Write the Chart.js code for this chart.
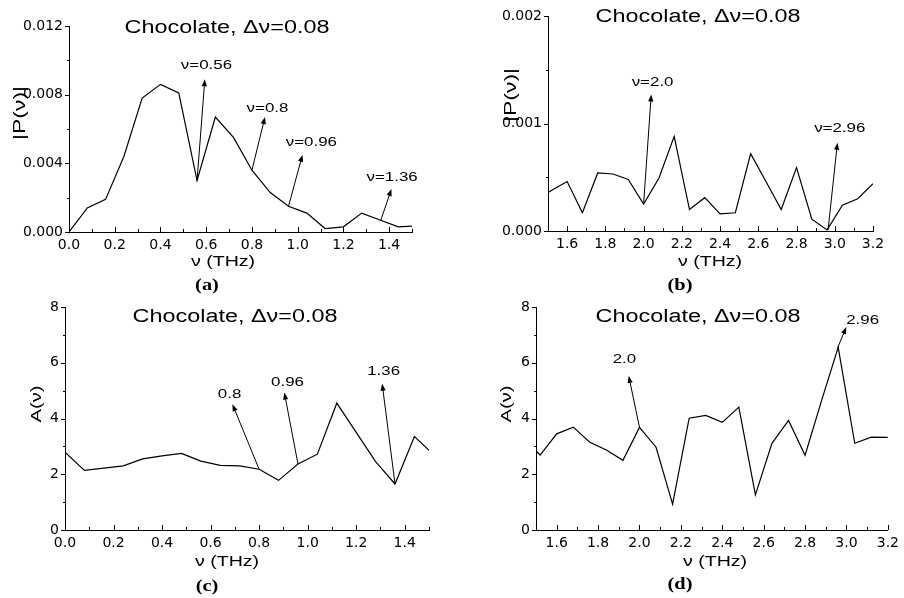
<!DOCTYPE html>
<html>
<head>
<meta charset="utf-8">
<script src="https://cdn.jsdelivr.net/npm/chart.js@4.4.0/dist/chart.umd.min.js"></script>
<style>
  html, body { margin: 0; padding: 0; background: #fff; }
  #wrap { position: relative; width: 904px; height: 598px; }
  #wrap canvas { position: absolute; left: 0; top: 0; }
</style>
</head>
<body>
<div id="wrap">
  <canvas id="chart-a" width="904" height="598"></canvas>
  <canvas id="chart-b" width="904" height="598"></canvas>
  <canvas id="chart-c" width="904" height="598"></canvas>
  <canvas id="chart-d" width="904" height="598"></canvas>
</div>
<script>
// frequencies (THz), step 0.08
const freq_low = [0.00, 0.08, 0.16, 0.24, 0.32, 0.40, 0.48, 0.56, 0.64, 0.72, 0.80, 0.88, 0.96, 1.04, 1.12, 1.20, 1.28, 1.36, 1.44, 1.52]
const freq_high = [1.44, 1.52, 1.60, 1.68, 1.76, 1.84, 1.92, 2.00, 2.08, 2.16, 2.24, 2.32, 2.40, 2.48, 2.56, 2.64, 2.72, 2.80, 2.88, 2.96, 3.04, 3.12, 3.20]

// |P(v)|
const power_low = [0.0000, 0.0014, 0.0019, 0.0044, 0.0078, 0.0086, 0.0081, 0.0030, 0.0067, 0.0055, 0.0036, 0.0023, 0.0015, 0.0011, 0.0002, 0.0003, 0.0011, 0.0007, 0.0003, 0.00035]
const power_high = [0.00029, 0.00038, 0.00046, 0.00017, 0.00054, 0.00053, 0.00048, 0.00025, 0.00049, 0.00088, 0.00020, 0.00031, 0.00016, 0.00017, 0.00072, 0.00046, 0.00020, 0.00059, 0.00011, 0.00001, 0.00024, 0.00030, 0.00044]

// A(v)
const amp_low = [2.79, 2.14, 2.22, 2.30, 2.55, 2.66, 2.75, 2.47, 2.32, 2.30, 2.18, 1.78, 2.37, 2.72, 4.55, 3.50, 2.45, 1.65, 3.35, 2.70]
const amp_high = [3.30, 2.69, 3.45, 3.69, 3.15, 2.87, 2.50, 3.68, 2.97, 0.93, 4.01, 4.11, 3.86, 4.41, 1.26, 3.11, 3.93, 2.68, 4.65, 6.55, 3.11, 3.33, 3.32]

// tick labels
const x_ticks_low = [0.0, 0.2, 0.4, 0.6, 0.8, 1.0, 1.2, 1.4]
const x_ticks_high = [1.6, 1.8, 2.0, 2.2, 2.4, 2.6, 2.8, 3.0, 3.2]
const p_ticks_low = [0.000, 0.004, 0.008, 0.012]
const p_ticks_high = [0.000, 0.001, 0.002]
const a_ticks = [0, 2, 4, 6, 8]

// arrows: from point on curve, to arrow tip, label position
const arrows_a = [
  { from: [0.56, 0.0030], to: [0.594, 0.0089], text: 'ν=0.56', at: [0.601, 0.0097] },
  { from: [0.80, 0.0036], to: [0.857, 0.0067], text: 'ν=0.8', at: [0.868, 0.0072] },
  { from: [0.96, 0.0015], to: [1.021, 0.0045], text: 'ν=0.96', at: [1.06, 0.0052] },
  { from: [1.364, 0.0007], to: [1.41, 0.0025], text: 'ν=1.36', at: [1.413, 0.0032] }
]
const arrows_b = [
  { from: [2.00, 0.00025], to: [2.04, 0.00127], text: 'ν=2.0', at: [2.047, 0.00138] },
  { from: [2.965, 0.00001], to: [3.014, 0.00082], text: 'ν=2.96', at: [3.026, 0.00095] }
]
const arrows_c = [
  { from: [0.80, 2.18], to: [0.69, 4.51], text: '0.8', at: [0.678, 4.87] },
  { from: [0.96, 2.37], to: [0.904, 4.93], text: '0.96', at: [0.917, 5.29] },
  { from: [1.36, 1.65], to: [1.307, 5.25], text: '1.36', at: [1.313, 5.69] }
]
const arrows_d = [
  { from: [2.00, 3.68], to: [1.948, 5.53], text: '2.0', at: [1.927, 6.11] },
  { from: [2.957, 6.53], to: [2.999, 7.28], text: '2.96', at: [3.078, 7.51] }
]

const TITLE = 'Chocolate, Δν=0.08',
      Y_W = 50,
      X_H = 24,
      SANS = '"Liberation Sans", Arial, sans-serif'

function wideText(ctx, str, x, y, font, sx, rot) {
  ctx.save()
  ctx.translate(x, y)
  if (rot) ctx.rotate(rot)
  ctx.scale(sx, 1)
  ctx.font = font
  ctx.fillStyle = '#000'
  ctx.textAlign = 'center'
  ctx.textBaseline = 'middle'
  ctx.fillText(str, 0, 0)
  ctx.restore()
}

function minorsOf(major, min, max) {
  const step = major[1] - major[0], out = []
  for (let i = -1; i < major.length; i++) {
    const v = (i < 0 ? major[0] - step : major[i]) + step / 2
    if (v >= min - 1e-9 && v <= max + 1e-9) out.push(v)
  }
  return out
}

function panel(id, p) {
  const decor = {
    id: 'decor',
    afterDraw(chart) {
      const {ctx, chartArea: area, scales: {x, y}} = chart
      ctx.save()
      ctx.strokeStyle = '#000'
      ctx.lineWidth = 1
      // tick marks: x inward, y outward
      const tick = (vals, len, axis) => vals.forEach(v => {
        ctx.beginPath()
        if (axis === 'x') {
          const px = Math.round(x.getPixelForValue(v)) + 0.5
          ctx.moveTo(px, area.bottom); ctx.lineTo(px, area.bottom - len)
        } else {
          const py = Math.round(y.getPixelForValue(v)) + 0.5
          ctx.moveTo(area.left, py); ctx.lineTo(area.left - len, py)
        }
        ctx.stroke()
      })
      tick(p.xTicks, 5, 'x')
      tick(minorsOf(p.xTicks, p.xMin, p.xMax), 3, 'x')
      tick(p.yTicks, 4, 'y')
      tick(minorsOf(p.yTicks, p.yMin, p.yMax), 2, 'y')

      // arrows
      p.arrows.forEach(a => {
        const x0 = x.getPixelForValue(a.from[0]), y0 = y.getPixelForValue(a.from[1]),
              x1 = x.getPixelForValue(a.to[0]), y1 = y.getPixelForValue(a.to[1]),
              ang = Math.atan2(y1 - y0, x1 - x0)
        ctx.beginPath()
        ctx.moveTo(x0, y0); ctx.lineTo(x1 - 4 * Math.cos(ang), y1 - 4 * Math.sin(ang))
        ctx.stroke()
        ctx.beginPath()
        ctx.moveTo(x1, y1)
        ctx.lineTo(x1 - 7 * Math.cos(ang) + 2.6 * Math.sin(ang), y1 - 7 * Math.sin(ang) - 2.6 * Math.cos(ang))
        ctx.lineTo(x1 - 7 * Math.cos(ang) - 2.6 * Math.sin(ang), y1 - 7 * Math.sin(ang) + 2.6 * Math.cos(ang))
        ctx.closePath()
        ctx.fillStyle = '#000'
        ctx.fill()
        wideText(ctx, a.text, x.getPixelForValue(a.at[0]), y.getPixelForValue(a.at[1]), `13px ${SANS}`, 1.3)
      })

      // titles and labels
      wideText(ctx, TITLE, p.title[0], p.title[1], `18px ${SANS}`, 1.3)
      wideText(ctx, 'ν (THz)', p.xTitle[0], p.xTitle[1], `14px ${SANS}`, 1.4)
      wideText(ctx, p.yLabel, p.yTitle[0], p.yTitle[1], p.yFont, 1.35, -Math.PI / 2)
      wideText(ctx, p.tag, p.tagAt[0], p.tagAt[1], `bold 17px "Liberation Serif", serif`, 1.2)
      ctx.restore()
    }
  }

  const axisFont = { family: '"DejaVu Sans", sans-serif', size: 14 }

  return new Chart(document.getElementById(id).getContext('2d'), {
    type: 'line',
    data: {
      datasets: [{
        data: p.xs.map((v, i) => ({ x: v, y: p.ys[i] })),
        borderColor: '#000',
        borderWidth: 1.2,
        pointRadius: 0,
        tension: 0,
        fill: false
      }]
    },
    options: {
      responsive: false,
      animation: false,
      devicePixelRatio: 1,
      layout: {
        padding: { left: p.box[0] - Y_W, top: p.box[1], right: 904 - p.box[2], bottom: 598 - p.box[3] - X_H }
      },
      plugins: { legend: { display: false }, tooltip: { enabled: false } },
      scales: {
        x: {
          type: 'linear',
          min: p.xMin,
          max: p.xMax,
          afterBuildTicks: s => { s.ticks = p.xTicks.map(v => ({ value: v })) },
          afterFit: s => { s.height = X_H },
          grid: { display: false, drawTicks: false },
          border: { display: true, color: '#000', width: 1 },
          ticks: { color: '#000', font: axisFont, padding: 5, maxRotation: 0, autoSkip: false, callback: v => v.toFixed(1) }
        },
        y: {
          type: 'linear',
          min: p.yMin,
          max: p.yMax,
          afterBuildTicks: s => { s.ticks = p.yTicks.map(v => ({ value: v })) },
          afterFit: s => { s.width = Y_W },
          grid: { display: false, drawTicks: false },
          border: { display: true, color: '#000', width: 1 },
          ticks: { color: '#000', font: axisFont, padding: 6, autoSkip: false, callback: p.yFmt }
        }
      }
    },
    plugins: [decor]
  })
}

window.addEventListener('DOMContentLoaded', () => {
  panel('chart-a', {
    xs: freq_low, ys: power_low, xMin: 0, xMax: 1.5, yMin: 0, yMax: 0.012,
    xTicks: x_ticks_low, yTicks: p_ticks_low, yFmt: v => v.toFixed(3),
    box: [69, 26, 412, 232], arrows: arrows_a,
    title: [227, 28], xTitle: [223, 262], yTitle: [20, 113], yLabel: '|P(ν)|', yFont: `17px ${SANS}`, tag: '(a)', tagAt: [207, 286]
  })
  panel('chart-b', {
    xs: freq_high, ys: power_high, xMin: 1.5, xMax: 3.2, yMin: 0, yMax: 0.002,
    xTicks: x_ticks_high, yTicks: p_ticks_high, yFont: `17px ${SANS}`, yFmt: v => v.toFixed(3),
    box: [548, 16, 873, 231], arrows: arrows_b,
    title: [698, 17], xTitle: [710, 262], yTitle: [511, 95], yLabel: '|P(ν)|', tag: '(b)', tagAt: [680, 286]
  })
  panel('chart-c', {
    xs: freq_low, ys: amp_low, xMin: 0, xMax: 1.5, yMin: 0, yMax: 8,
    xTicks: x_ticks_low, yTicks: a_ticks, yFmt: v => String(v),
    box: [65, 307, 429, 530], arrows: arrows_c,
    title: [235, 317], xTitle: [227, 562], yTitle: [37, 404], yLabel: 'A(ν)', yFont: `15px ${SANS}`, tag: '(c)', tagAt: [207, 587]
  })
  panel('chart-d', {
    xs: freq_high, ys: amp_high, xMin: 1.5, xMax: 3.2, yMin: 0, yMax: 8,
    xTicks: x_ticks_high, yTicks: a_ticks, yFmt: v => String(v),
    box: [536, 307, 891, 530], arrows: arrows_d,
    title: [698, 317], xTitle: [715, 562], yTitle: [507, 404], yLabel: 'A(ν)', yFont: `15px ${SANS}`, tag: '(d)', tagAt: [680, 585]
  })
})
</script>
</body>
</html>
